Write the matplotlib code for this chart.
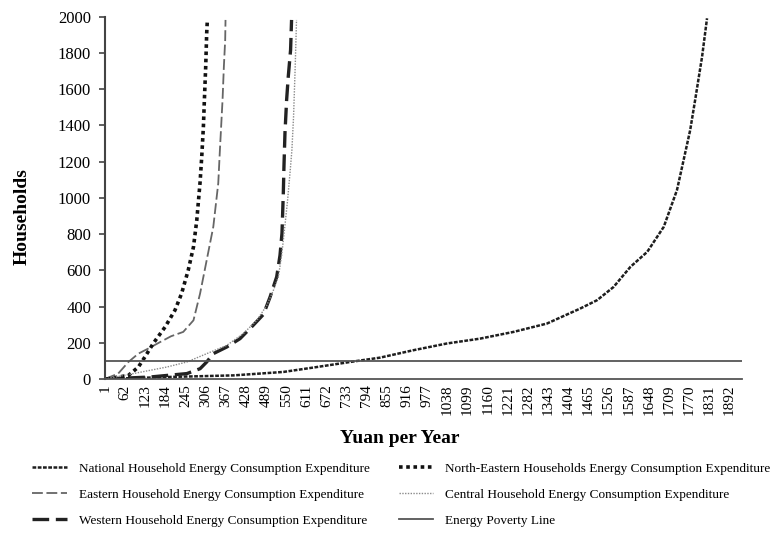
import matplotlib.pyplot as plt

# household position (category index) and cumulative value for each region
national_x = [1, 188, 390, 541, 642, 743, 834, 935, 1036, 1137, 1238, 1339, 1440, 1491,
              1541, 1592, 1643, 1693, 1733, 1753, 1773, 1788, 1809, 1824]
national_y = [0, 11, 20, 39, 66, 94, 118, 159, 196, 223, 260, 306, 389, 435,
              508, 619, 702, 840, 1043, 1208, 1374, 1540, 1779, 1991]

northeast_x = [6, 72, 102, 122, 147, 183, 213, 233, 253, 269, 279, 289, 294, 299, 302, 306, 309, 311]
northeast_y = [0, 20, 66, 122, 196, 287, 380, 472, 600, 729, 877, 1087, 1227, 1392, 1540, 1724, 1908, 1982]

eastern_x = [1, 41, 72, 102, 132, 168, 201, 238, 269, 289, 309, 329, 344, 349, 357, 361, 365, 366]
eastern_y = [0, 30, 94, 140, 168, 204, 236, 260, 324, 472, 656, 840, 1080, 1264, 1540, 1724, 1871, 1982]

central_x = [1, 87, 188, 249, 309, 370, 420, 461, 491, 511, 526, 536, 546, 554, 562, 567, 572, 577, 581]
central_y = [0, 30, 66, 94, 140, 186, 251, 324, 407, 490, 564, 683, 849, 988, 1153, 1264, 1448, 1724, 1982]

western_x = [1, 137, 249, 289, 309, 329, 370, 410, 450, 481, 501, 521, 531, 537, 541, 543, 546, 551, 556, 563, 566]
western_y = [0, 11, 30, 57, 94, 140, 177, 223, 297, 357, 453, 564, 683, 805, 1026, 1175, 1357, 1540, 1669, 1816, 1982]

poverty_line = 100
n_categories = 1930
tick_labels = list(range(1, 1893, 61))

plt.rcParams["font.family"] = ["Liberation Serif", "DejaVu Serif"]

fig = plt.figure(figsize=(7.77, 5.33), dpi=100)
ax = fig.add_axes([0.1351, 0.2889, 0.8199, 0.6798])

h_nat, = ax.plot(national_x, national_y, color="#1e1e1e", lw=1.8, ls=(0, (1.5, 0.6)),
                 label="National Household Energy Consumption Expenditure")
h_east, = ax.plot(eastern_x, eastern_y, color="#666666", lw=1.3, ls=(0, (6, 2)),
                  label="Eastern Household Energy Consumption Expenditure")
h_west, = ax.plot(western_x, western_y, color="#222222", lw=2.4, ls=(0, (5, 2)),
                  label="Western Household Energy Consumption Expenditure")
h_ne, = ax.plot(northeast_x, northeast_y, color="#111111", lw=2.6, ls=(0, (1, 1)),
                label="North-Eastern Households Energy Consumption Expenditure")
h_cen, = ax.plot(central_x, central_y, color="#8a8a8a", lw=1.0, ls=(0, (1, 1)),
                 label="Central Household Energy Consumption Expenditure")
h_pov = ax.axhline(poverty_line, color="#555555", lw=1.3, label="Energy Poverty Line")

ax.set_xlim(1, n_categories)
ax.set_ylim(0, 2000)
ax.set_yticks(range(0, 2001, 200))
ax.set_xticks(tick_labels)
ax.set_xticklabels([str(t) for t in tick_labels], rotation=90, fontsize=11)
ax.tick_params(axis="y", labelsize=12, length=4, width=1.2, color="#444444", pad=6)
ax.tick_params(axis="x", length=0, pad=4)

for side in ["top", "right"]:
    ax.spines[side].set_visible(False)
ax.spines["left"].set_color("#444444")
ax.spines["left"].set_linewidth(1.5)
ax.spines["bottom"].set_color("#555555")
ax.spines["bottom"].set_linewidth(1.3)

ax.set_ylabel("Households", fontsize=14, fontweight="bold")
ax.yaxis.set_label_coords(-0.116, 0.447)
ax.set_xlabel("Yuan per Year", fontsize=14, fontweight="bold")
ax.xaxis.set_label_coords(0.463, -0.141)

fig.legend(handles=[h_nat, h_east, h_west, h_ne, h_cen, h_pov], ncol=2,
           loc="upper left", bbox_to_anchor=(0.035, 0.142), frameon=False,
           fontsize=9.5, handlelength=2.6, handletextpad=0.9, columnspacing=2.2,
           labelspacing=1.05, borderaxespad=0)

fig.savefig("out.png", dpi=100)
